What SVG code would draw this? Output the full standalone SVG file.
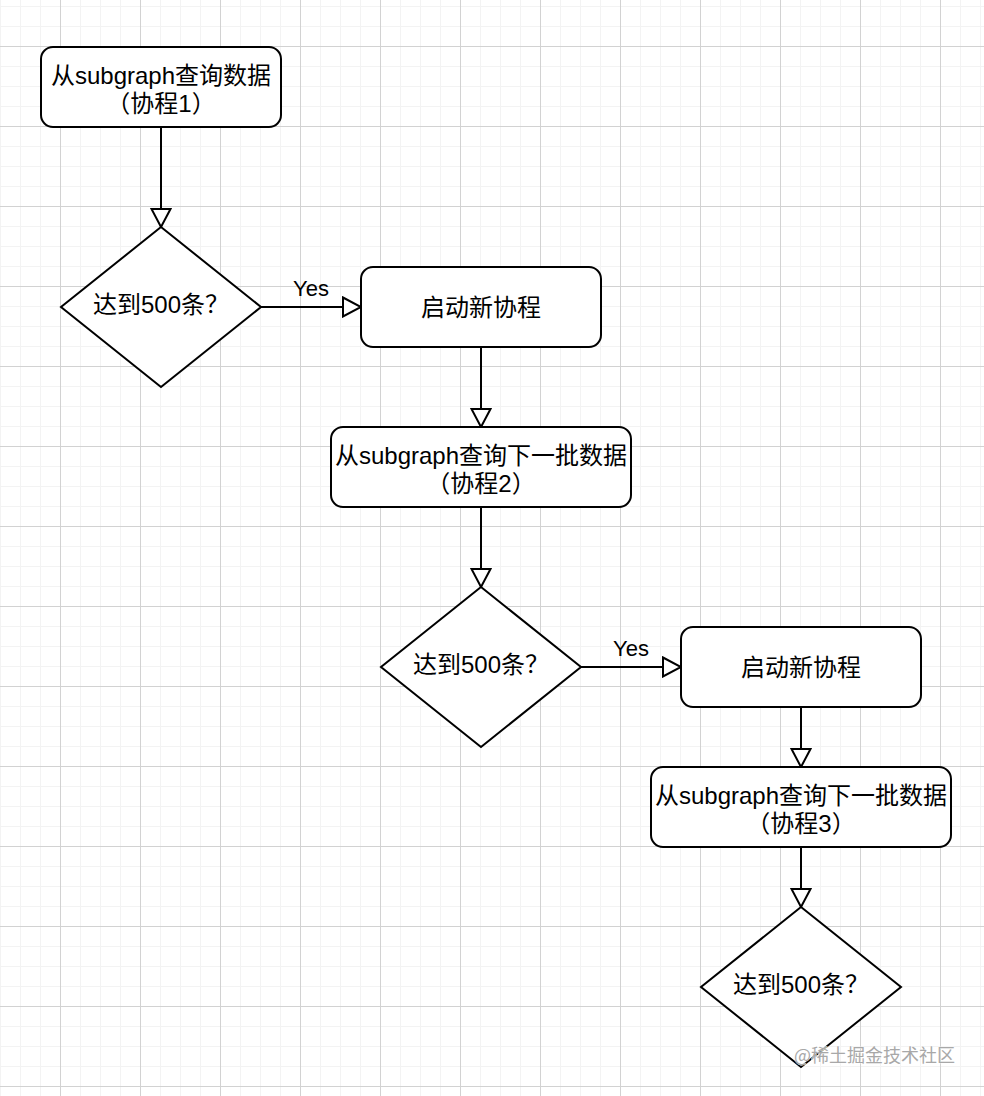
<svg xmlns="http://www.w3.org/2000/svg" width="984" height="1096" viewBox="0 0 984 1096">
<style>
.node{fill:#ffffff;stroke:#000000;stroke-width:2}
.lbl{font-family:"Liberation Sans","Noto Sans CJK SC",sans-serif;font-size:24px;fill:#000000;text-anchor:middle}
.yes{font-family:"Liberation Sans","Noto Sans CJK SC",sans-serif;font-size:22px;fill:#000000;text-anchor:middle}
.edge{stroke:#000000;stroke-width:2;fill:none;marker-end:url(#tri)}
.wm{font-family:"Noto Sans CJK SC",sans-serif;font-size:18px;fill:#a8a8a8;stroke:#ffffff;stroke-width:0.6;paint-order:stroke}
</style>
<defs>
<pattern id="grid" patternUnits="userSpaceOnUse" x="60" y="46" width="80" height="80">
<rect x="0" y="0" width="80" height="80" fill="#ffffff"/>
<rect x="20" y="0" width="1" height="80" fill="#f3f3f3"/>
<rect x="40" y="0" width="1" height="80" fill="#f3f3f3"/>
<rect x="60" y="0" width="1" height="80" fill="#f3f3f3"/>
<rect x="0" y="20" width="80" height="1" fill="#f3f3f3"/>
<rect x="0" y="40" width="80" height="1" fill="#f3f3f3"/>
<rect x="0" y="60" width="80" height="1" fill="#f3f3f3"/>
<rect x="0" y="0" width="1" height="80" fill="#d2d2d2"/>
<rect x="0" y="0" width="80" height="1" fill="#d2d2d2"/>
</pattern>
<marker id="tri" viewBox="0 0 22 22" refX="20" refY="11" markerWidth="22" markerHeight="22" markerUnits="userSpaceOnUse" orient="auto">
<path d="M2,1.5 L20,11 L2,20.5 Z" fill="#ffffff" stroke="#000000" stroke-width="2" stroke-linejoin="miter"/>
</marker>
</defs>
<rect x="0" y="0" width="984" height="1096" fill="url(#grid)"/>

<g id="connectors">
<line class="edge" x1="161" y1="127" x2="161" y2="227"/>
<line class="edge" x1="261" y1="307" x2="361" y2="307"/>
<line class="edge" x1="481" y1="347" x2="481" y2="427"/>
<line class="edge" x1="481" y1="507" x2="481" y2="587"/>
<line class="edge" x1="581" y1="667" x2="681" y2="667"/>
<line class="edge" x1="801" y1="707" x2="801" y2="767"/>
<line class="edge" x1="801" y1="847" x2="801" y2="907"/>
<text class="yes" x="311" y="296">Yes</text>
<text class="yes" x="631" y="656">Yes</text>
</g>

<g id="query1">
<rect class="node" x="41" y="47" width="240" height="80" rx="12" ry="12"/>
<text class="lbl" x="161" y="83.5">从subgraph查询数据</text>
<text class="lbl" x="161" y="111.5">（协程1）</text>
</g>

<g id="check1">
<polygon class="node" points="161,227 261,307 161,387 61,307"/>
<text class="lbl" x="161" y="313">达到500条？</text>
</g>

<g id="start1">
<rect class="node" x="361" y="267" width="240" height="80" rx="12" ry="12"/>
<text class="lbl" x="481" y="316">启动新协程</text>
</g>

<g id="query2">
<rect class="node" x="331" y="427" width="300" height="80" rx="12" ry="12"/>
<text class="lbl" x="481" y="463.5">从subgraph查询下一批数据</text>
<text class="lbl" x="481" y="491.5">（协程2）</text>
</g>

<g id="check2">
<polygon class="node" points="481,587 581,667 481,747 381,667"/>
<text class="lbl" x="481" y="673">达到500条？</text>
</g>

<g id="start2">
<rect class="node" x="681" y="627" width="240" height="80" rx="12" ry="12"/>
<text class="lbl" x="801" y="676">启动新协程</text>
</g>

<g id="query3">
<rect class="node" x="651" y="767" width="300" height="80" rx="12" ry="12"/>
<text class="lbl" x="801" y="803.5">从subgraph查询下一批数据</text>
<text class="lbl" x="801" y="831.5">（协程3）</text>
</g>

<g id="check3">
<polygon class="node" points="801,907 901,987 801,1067 701,987"/>
<text class="lbl" x="801" y="993">达到500条？</text>
</g>

<g id="watermark">
<text class="wm" x="794" y="1062">@稀土掘金技术社区</text>
</g>
</svg>
